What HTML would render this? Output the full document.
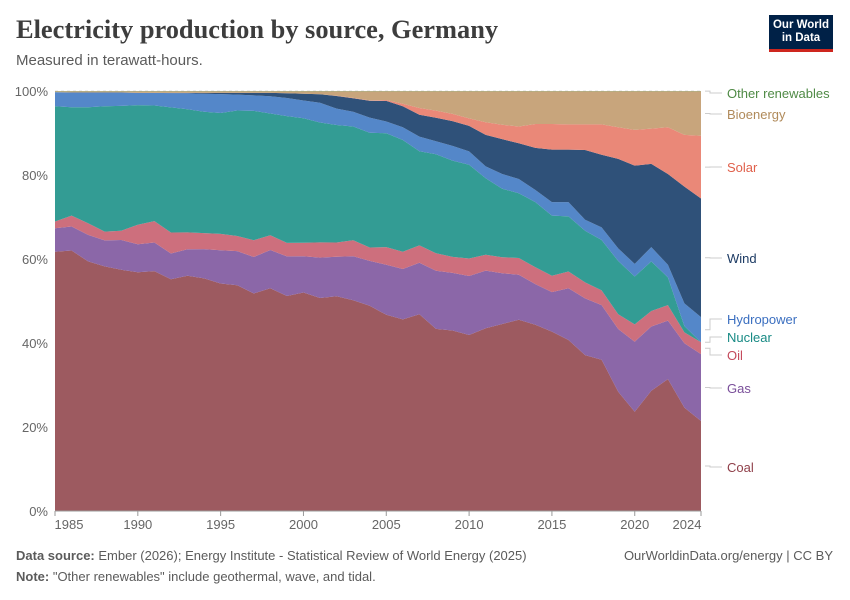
<!DOCTYPE html>
<html><head><meta charset="utf-8"><style>
body{margin:0;background:#fff;font-family:"Liberation Sans",sans-serif;}
#wrap{position:relative;width:850px;height:600px;overflow:hidden;}
.t{position:absolute;white-space:nowrap;}
</style></head><body>
<div id="wrap">
<div class="t" style="left:16px;top:14px;font-family:'Liberation Serif',serif;font-size:26.4px;font-weight:bold;color:#3d3d3d;">Electricity production by source, Germany</div>
<div class="t" style="left:16px;top:52px;font-size:15px;color:#5b5b5b;">Measured in terawatt-hours.</div>
<div style="position:absolute;left:769px;top:15px;width:64px;height:37px;background:#002147;border-bottom:3px solid #ce261e;color:#fff;font-size:11.5px;font-weight:bold;text-align:center;line-height:13px;padding-top:4px;box-sizing:border-box;">Our World<br>in Data</div>
<svg id="chart" width="850" height="600" style="position:absolute;left:0;top:0"></svg>
<div class="t" style="left:16px;top:548px;font-size:13px;color:#5b5b5b;"><b>Data source:</b> Ember (2026); Energy Institute - Statistical Review of World Energy (2025)</div>
<div class="t" style="right:17px;top:548px;font-size:13px;color:#5b5b5b;">OurWorldinData.org/energy | CC BY</div>
<div class="t" style="left:16px;top:569px;font-size:13px;color:#5b5b5b;"><b>Note:</b> "Other renewables" include geothermal, wave, and tidal.</div>
</div>
<script>
const years=[];for(let y=1985;y<=2024;y++)years.push(y);
const coal=[61.7,62.0,59.4,58.2,57.4,56.8,57.1,55.2,56.0,55.4,54.2,53.8,51.8,53.0,51.0,51.8,50.6,51.2,50.2,49.0,46.7,45.6,46.8,43.3,42.9,42.1,43.5,44.5,45.5,44.3,42.7,40.7,37.1,36.0,28.4,23.6,28.6,31.4,24.6,21.4];
const gas=[5.6,5.7,6.3,6.2,7.1,6.7,6.8,6.1,6.3,7.0,7.9,8.1,8.7,9.1,9.4,8.6,9.6,9.4,10.5,10.7,11.9,12.0,12.3,13.8,13.7,14.1,13.7,12.1,10.7,9.7,9.4,12.3,13.5,13.0,14.9,16.7,15.3,13.9,15.3,15.9];
const oil=[1.6,2.6,2.8,2.1,2.2,4.6,5.1,5.0,4.0,3.8,3.9,3.6,4.0,3.5,3.2,3.2,3.6,3.4,3.8,3.2,4.2,4.1,4.1,4.2,3.8,4.2,3.8,3.8,4.0,4.0,3.9,4.0,3.8,3.5,3.5,4.1,3.7,3.7,2.6,2.8];
const nuclear=[27.4,25.8,27.6,29.8,29.7,28.5,27.5,29.8,29.3,28.9,28.8,29.9,30.8,29.0,30.1,29.5,28.5,28.0,27.1,27.4,27.1,26.6,22.4,23.5,22.9,22.4,18.2,16.3,15.4,15.5,14.3,13.1,12.3,12.0,12.7,11.4,11.8,6.6,1.5,0];
const hydro=[3.4,3.5,3.5,3.3,3.2,2.9,3.0,3.4,3.8,4.3,4.5,3.8,3.7,4.1,4.3,4.2,4.7,3.9,3.5,3.6,2.8,3.0,3.5,3.1,3.5,3.2,2.8,3.5,3.4,2.9,3.2,3.4,2.6,3.0,3.0,3.0,3.4,3.0,5.4,6.0];
const wind=[0,0,0,0,0,0,0,0.05,0.1,0.2,0.3,0.4,0.6,0.8,1.1,1.6,2.0,3.0,3.2,4.0,4.9,5.0,5.2,5.6,5.9,6.1,7.5,8.3,8.5,10.0,12.5,12.5,16.6,17.3,21.3,23.4,19.8,21.6,27.8,28.2];
const solar=[0,0,0,0,0,0,0,0,0,0,0,0,0,0,0,0.01,0.03,0.05,0.1,0.1,0.2,0.6,1.6,1.7,1.7,1.8,3.0,3.4,4.0,5.7,6.1,6.0,6.1,7.2,7.5,8.5,8.4,11.1,12.3,14.9];
const bio=[0.2,0.3,0.3,0.3,0.3,0.4,0.4,0.4,0.4,0.4,0.4,0.4,0.4,0.4,0.5,0.6,0.7,1.1,1.6,2.2,2.1,3.0,4.0,4.6,5.4,6.5,7.4,8.0,8.4,7.8,7.8,7.9,7.9,7.9,8.6,9.2,8.9,8.6,10.4,10.6];
const other=[0.05,0.05,0.05,0.05,0.05,0.05,0.05,0.05,0.05,0.05,0.05,0.05,0.05,0.05,0.05,0.05,0.05,0.05,0.05,0.05,0.05,0.05,0.05,0.05,0.05,0.05,0.05,0.05,0.05,0.05,0.05,0.05,0.05,0.05,0.05,0.05,0.05,0.05,0.05,0.05];
const seriesNames=["Coal","Gas","Oil","Nuclear","Hydropower","Wind","Solar","Bioenergy","Other renewables"];
const yTicks=[0,20,40,60,80,100];
const xTicks=[1985,1990,1995,2000,2005,2010,2015,2020,2024];

const series=[coal,gas,oil,nuclear,hydro,wind,solar,bio,other];
const fills=["#9d5a60","#8b67a8","#cd6f7d","#339c94","#5487c9","#2f5179","#ea8878","#c8a57c","#6f9d58"];
const textCols=["#8f3f49","#7a4f9a","#c44a5c","#178a84","#3b6fc0","#1c3a63","#e0604b","#b08a5a","#4f8a45"];
const labelY=[467,388,355,337,319,258,167,114,93];
const svg=document.getElementById('chart');
const NS='http://www.w3.org/2000/svg';
const L=55,R=701,T=91,B=511;
const xs=y=>L+(y-years[0])/(years[years.length-1]-years[0])*(R-L);
const ys=p=>B-p/100*(B-T);
function mk(tag,attrs){const e=document.createElementNS(NS,tag);for(const k in attrs)e.setAttribute(k,attrs[k]);svg.appendChild(e);return e;}
yTicks.forEach(v=>{
 const g=mk('line',{x1:L,x2:R,y1:ys(v),y2:ys(v),stroke:'#ddd','stroke-dasharray':v===0?'':'3,3'});
 
 
 const t=mk('text',{x:48,y:ys(v)+5,'text-anchor':'end','font-size':13,fill:'#666','font-family':'Liberation Sans, sans-serif'});
 t.textContent=v+'%';
 
 
});
const totals=years.map((_,i)=>series.reduce((s,a)=>s+a[i],0));
let base=years.map(()=>0);
series.forEach((arr,si)=>{
 const top=base.map((b,i)=>b+arr[i]/totals[i]*100);
 let d='M'+years.map((y,i)=>xs(y).toFixed(1)+','+ys(top[i]).toFixed(1)).join('L');
 for(let i=years.length-1;i>=0;i--)d+='L'+xs(years[i]).toFixed(1)+','+ys(base[i]).toFixed(1);
 const p=mk('path',{d:d+'Z',fill:fills[si]});
 
 
 const mid=(top[top.length-1]+base[base.length-1])/2;
 const ly=labelY[si];
 const c=mk('path',{d:`M705,${ys(mid).toFixed(1)}L710,${ys(mid).toFixed(1)}L710,${ly}L722,${ly}`,stroke:'#ccc',fill:'none'});
 
 
 const t=mk('text',{x:727,y:ly+5,'font-size':13,fill:textCols[si],'font-family':'Liberation Sans, sans-serif'});
 t.textContent=seriesNames[si];
 
 
 base=top;
});
const ax=mk('line',{x1:L,x2:R,y1:B,y2:B,stroke:'#999'});


xTicks.forEach(v=>{
 const tk=mk('line',{x1:xs(v),x2:xs(v),y1:B,y2:B+5,stroke:'#999'});
 
 
 const t=mk('text',{x:v===1985?xs(v)+14:(v===2024?xs(v)-14:xs(v)),y:B+18,'text-anchor':'middle','font-size':13,fill:'#666','font-family':'Liberation Sans, sans-serif'});
 t.textContent=v;
 
 
});
</script>
</body></html>
